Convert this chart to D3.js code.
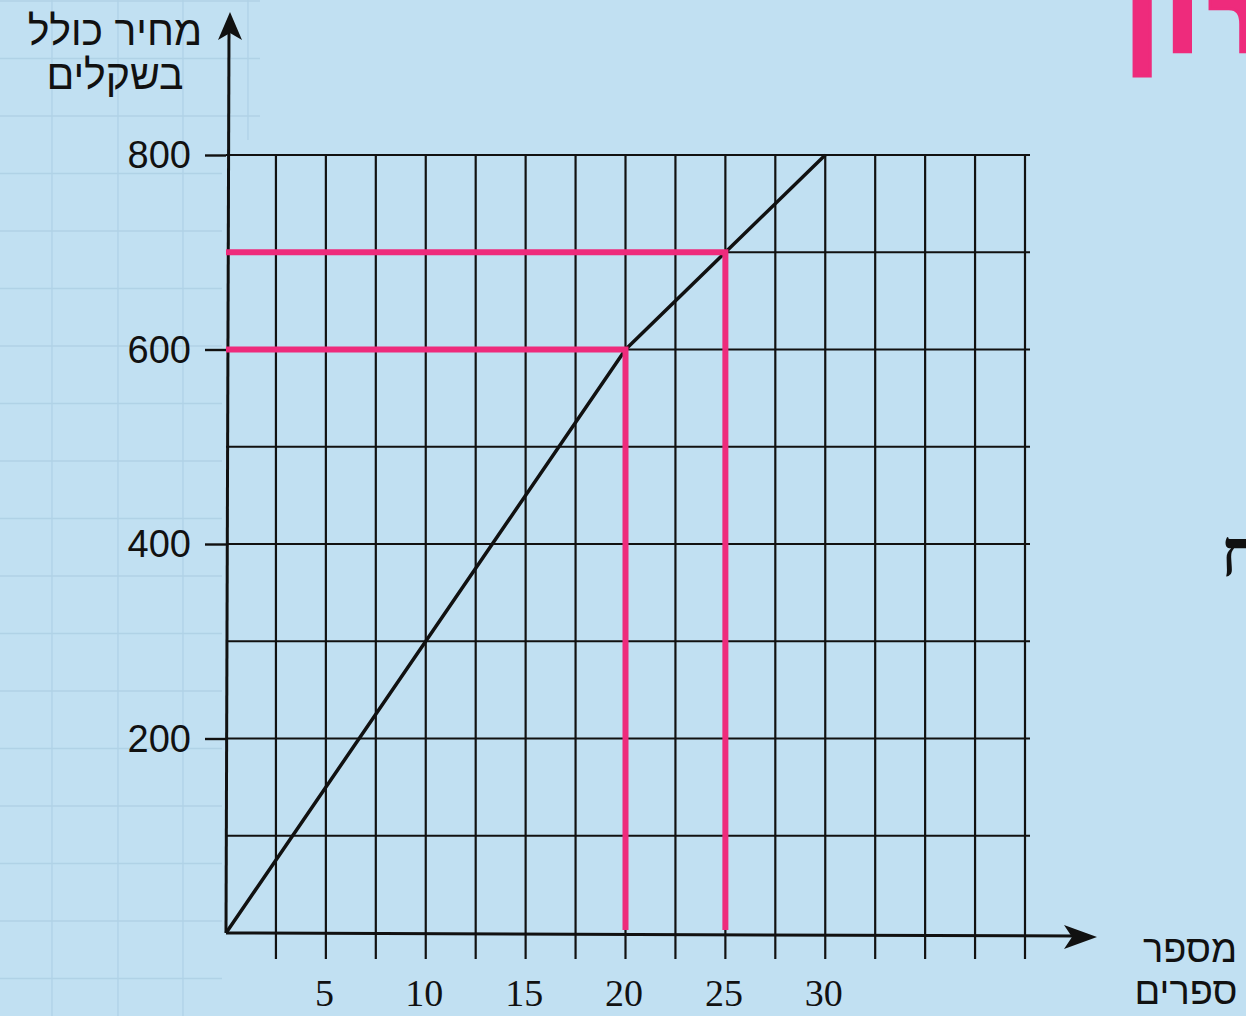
<!DOCTYPE html>
<html lang="he">
<head>
<meta charset="utf-8">
<script src="https://cdn.jsdelivr.net/npm/d3@7"></script>
<style>
  html, body { margin: 0; padding: 0; background: #c1e0f2; }
  svg { display: block; }
</style>
</head>
<body>
<svg id="chart" width="1246" height="1016"></svg>
<script>
// ---- data ----
const bookCounts = [0, 20, 30];          // מספר ספרים
const totalPrices = [0, 600, 800];       // מחיר כולל בשקלים
const xTickLabels = [5, 10, 15, 20, 25, 30];
const yTickLabels = [200, 400, 600, 800];
const highlightBooks = [20, 25];
const highlightPrices = [600, 700];
const xGridStep = 2.5;
const yGridStep = 100;
const xMax = 40;
const yMax = 800;

const svg = d3.select("#chart");
const W = 1246, H = 1016;

const x = d3.scaleLinear().domain([0, xMax]).range([226, 1025]);
const y = d3.scaleLinear().domain([0, yMax]).range([933, 155]);

// background
svg.append("rect").attr("width", W).attr("height", H).attr("fill", "#c1e0f2");

// faint graph paper in the left margin
const paper = svg.append("g").attr("stroke", "#b0d2e6").attr("stroke-width", 1.3);
[52, 118, 183].forEach(px => {
  paper.append("line").attr("x1", px).attr("x2", px).attr("y1", 0).attr("y2", H);
});
paper.append("line").attr("x1", 248).attr("x2", 248).attr("y1", 0).attr("y2", 140);
d3.range(1, H, 57.5).forEach(py => {
  paper.append("line").attr("x1", 0).attr("x2", py < 140 ? 260 : 222).attr("y1", py).attr("y2", py);
});

// chart grid
const xGrid = d3.range(xGridStep, xMax + 0.001, xGridStep);
const yGrid = d3.range(yGridStep, yMax + 0.001, yGridStep);
const grid = svg.append("g").attr("stroke", "#111").attr("stroke-width", 2.2);
grid.selectAll("line.v").data(xGrid).join("line")
  .attr("x1", d => x(d)).attr("x2", d => x(d))
  .attr("y1", y(yMax)).attr("y2", y(0) + 26);
grid.selectAll("line.h").data(yGrid).join("line")
  .attr("x1", x(0)).attr("x2", x(xMax) + 5)
  .attr("y1", d => y(d)).attr("y2", d => y(d));

// y axis ticks + labels
const yAxis = svg.append("g").attr("transform", `translate(${x(0)},0)`)
  .call(d3.axisLeft(y).tickValues(yTickLabels).tickSize(21).tickPadding(14));
yAxis.select(".domain").remove();
yAxis.selectAll(".tick line").attr("stroke", "#111").attr("stroke-width", 2.4);
yAxis.selectAll(".tick text")
  .attr("font-family", "Liberation Sans, Arial, sans-serif")
  .attr("font-size", 38).attr("fill", "#111").attr("dy", "0.33em");

// x axis labels
const xAxis = svg.append("g").attr("transform", `translate(0,${y(0)})`)
  .call(d3.axisBottom(x).tickValues(xTickLabels).tickSize(0).tickPadding(46));
xAxis.select(".domain").remove();
xAxis.selectAll(".tick text")
  .attr("font-family", "Liberation Serif, Times New Roman, serif")
  .attr("font-size", 38).attr("fill", "#111").attr("dx", "-2");

// axes lines with arrows
const axes = svg.append("g").attr("stroke", "#111").attr("fill", "none");
axes.append("line").attr("x1", x(0)).attr("y1", y(0)).attr("x2", x(0) + 3).attr("y2", 30)
  .attr("stroke-width", 3);
axes.append("line").attr("x1", x(0)).attr("y1", y(0)).attr("x2", 1080).attr("y2", y(0) + 3)
  .attr("stroke-width", 3);
svg.append("path").attr("fill", "#111")
  .attr("d", `M${x(0) + 4},12 L${x(0) + 16},40 L${x(0) + 4},33 L${x(0) - 8},40 Z`);
svg.append("path").attr("fill", "#111")
  .attr("d", `M1097,${y(0) + 4} L1064,${y(0) - 8} L1072,${y(0) + 4} L1064,${y(0) + 16} Z`);

// data line
const line = d3.line().x(d => x(d[0])).y(d => y(d[1]));
svg.append("path")
  .datum(d3.zip(bookCounts, totalPrices))
  .attr("d", line).attr("fill", "none")
  .attr("stroke", "#111").attr("stroke-width", 3.5).attr("stroke-linejoin", "round");

// pink guide lines
const pink = svg.append("g").attr("stroke", "#ee2b7c").attr("stroke-width", 6).attr("fill", "none");
highlightBooks.forEach((b, i) => {
  const p = highlightPrices[i];
  pink.append("path")
    .attr("d", `M${x(0)},${y(p)} L${x(b)},${y(p)} L${x(b)},${y(0) - 3}`);
});

// axis titles
const heb = "Liberation Sans, DejaVu Sans, Arial, sans-serif";
svg.append("text").attr("x", 115).attr("y", 45).attr("text-anchor", "middle")
  .attr("font-family", heb).attr("font-size", 41).attr("fill", "#111").text("מחיר כולל");
svg.append("text").attr("x", 115).attr("y", 89).attr("text-anchor", "middle")
  .attr("font-family", heb).attr("font-size", 41).attr("fill", "#111").text("בשקלים");
svg.append("text").attr("x", 1190).attr("y", 962).attr("text-anchor", "middle")
  .attr("font-family", heb).attr("font-size", 38).attr("fill", "#111").text("מספר");
svg.append("text").attr("x", 1186).attr("y", 1004).attr("text-anchor", "middle")
  .attr("font-family", heb).attr("font-size", 38).attr("fill", "#111").text("ספרים");

// fragments of surrounding page text (cut by the page edge, as in the source)
svg.append("text").attr("x", 1125).attr("y", 52).attr("text-anchor", "start")
  .attr("font-family", "DejaVu Sans, sans-serif").attr("font-weight", "bold")
  .attr("font-size", 100).attr("letter-spacing", 6)
  .attr("fill", "#ee2b7c").attr("stroke", "#ee2b7c").attr("stroke-width", 3)
  .text("פתרון");
svg.append("text").attr("x", 1221).attr("y", 576).attr("text-anchor", "start")
  .attr("font-family", "Liberation Serif, DejaVu Serif, serif").attr("font-weight", "bold")
  .attr("font-size", 66).attr("fill", "#111").text("ח");
</script>
</body>
</html>
